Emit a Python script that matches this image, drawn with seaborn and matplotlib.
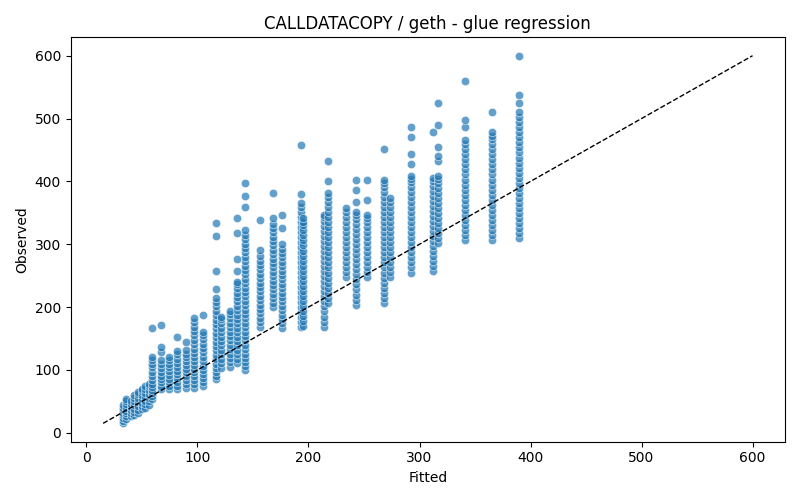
import matplotlib
matplotlib.use("Agg")
import matplotlib.pyplot as plt
import seaborn as sns
import pandas as pd

# Fitted levels (x) and observed values read for each level (y)
fitted_levels = [33, 36, 40, 43, 46, 50, 53, 56, 59, 67, 74, 82, 90, 97, 105, 117,
                 121, 129, 136, 143, 156, 168, 176, 193, 195, 214, 218, 234, 243,
                 253, 268, 273, 292, 312, 317, 341, 365, 390]

observed_low = [
    [15, 19, 24, 28, 32, 36, 40, 44],
    [22, 27, 31, 35, 40, 45, 50, 54],
    [27, 31, 36, 41, 46, 51],
    [28, 33, 38, 44, 50, 55, 60],
    [32, 37, 43, 49, 55, 61, 65],
    [38, 43, 48, 54, 60, 66, 70],
    [40, 45, 51, 57, 63, 69, 75],
    [44, 50, 56, 62, 68, 74, 78],
    [53, 58, 63, 68, 73, 78, 84, 90, 97, 104, 110, 116, 121, 167],
    [69, 74, 80, 86, 91, 97, 103, 109, 116, 129, 137, 172],
    [69, 74, 80, 86, 92, 98, 104, 110, 116, 121],
    [69, 75, 81, 87, 93, 99, 105, 111, 118, 125, 130, 153],
    [72, 78, 84, 90, 96, 102, 108, 114, 120, 126, 132, 145],
    [72, 78, 84, 90, 96, 102, 108, 114, 120, 127, 134, 141, 148, 155, 162, 169, 176, 183],
    [75, 81, 87, 93, 100, 107, 114, 121, 128, 135, 142, 149, 156, 160, 188],
]

observed_mid = [
    [85, 91, 97, 103, 110, 117, 124, 131, 138, 145, 152, 159, 166, 173, 180, 187, 194,
     201, 208, 214, 229, 258, 313, 334],
    [103, 111, 118, 125, 132, 139, 146, 153, 160, 167, 174, 181, 185],
    [105, 112, 119, 126, 133, 140, 147, 154, 161, 168, 175, 182, 189, 193],
    [111, 118, 125, 132, 139, 146, 153, 160, 167, 174, 181, 188, 195, 202, 209, 216,
     223, 230, 237, 240, 258, 277, 318, 341],
    [100, 106, 112, 119, 126, 133, 140, 147, 154, 161, 168, 175, 182, 189, 196, 203,
     210, 217, 224, 231, 238, 245, 252, 259, 266, 273, 280, 287, 294, 301, 308, 315,
     323, 360, 376, 398],
    [169, 176, 183, 190, 197, 204, 211, 218, 225, 232, 239, 246, 253, 260, 267, 274,
     281, 291, 339],
    [200, 207, 214, 221, 228, 235, 242, 249, 256, 263, 270, 277, 284, 291, 298, 305,
     312, 319, 326, 333, 342, 382],
    [167, 174, 181, 188, 195, 202, 209, 216, 223, 230, 237, 244, 251, 258, 265, 272,
     279, 286, 293, 300, 326, 347],
]

observed_high = [
    [169, 176, 184, 192, 200, 208, 216, 224, 232, 240, 248, 256, 264, 272, 280, 288,
     296, 304, 312, 320, 328, 336, 344, 352, 359, 366, 380, 458],
    [170, 178, 186, 194, 202, 210, 218, 226, 234, 242, 250, 258, 266, 274, 282, 290,
     298, 306, 314, 322, 330, 336, 342],
    [169, 177, 185, 193, 201, 209, 217, 225, 233, 241, 249, 257, 265, 273, 281, 289,
     297, 305, 313, 321, 329, 337, 343, 347],
    [207, 215, 223, 231, 239, 247, 255, 263, 271, 279, 287, 295, 303, 311, 319, 327,
     335, 343, 351, 359, 367, 375, 382, 401, 433],
    [248, 256, 264, 272, 280, 288, 296, 304, 312, 320, 328, 336, 344, 351, 357],
    [204, 212, 220, 228, 236, 244, 252, 260, 268, 276, 284, 292, 300, 308, 316, 324,
     332, 340, 347, 352, 368, 387, 403],
    [248, 256, 264, 272, 280, 288, 296, 304, 312, 320, 328, 336, 342, 347, 371, 403],
    [207, 215, 223, 231, 239, 247, 255, 263, 271, 279, 287, 295, 303, 311, 319, 327,
     335, 343, 351, 359, 367, 375, 383, 391, 398, 403, 452],
    [248, 256, 264, 272, 280, 288, 296, 304, 312, 320, 328, 336, 344, 352, 360, 367, 374],
    [255, 263, 271, 279, 287, 295, 303, 311, 319, 327, 335, 343, 351, 359, 367, 375,
     383, 391, 399, 404, 408, 427, 443, 470, 486],
    [257, 265, 273, 281, 289, 297, 305, 313, 321, 329, 337, 345, 353, 361, 369, 377,
     385, 393, 400, 406, 479],
    [302, 310, 318, 326, 334, 342, 350, 358, 366, 374, 382, 390, 398, 404, 408, 432,
     440, 455, 489, 525],
    [307, 315, 323, 331, 339, 347, 355, 363, 371, 379, 387, 395, 403, 411, 419, 427,
     435, 443, 451, 459, 466, 487, 497, 559],
    [307, 315, 323, 331, 339, 347, 355, 363, 371, 379, 387, 395, 403, 411, 419, 427,
     435, 443, 451, 459, 467, 473, 478, 511],
    [310, 318, 326, 334, 342, 350, 358, 366, 374, 382, 390, 398, 406, 414, 422, 430,
     438, 446, 454, 462, 470, 478, 486, 494, 503, 511, 525, 538, 600],
]

observed_groups = observed_low + observed_mid + observed_high
rows = []
for f, obs in zip(fitted_levels, observed_groups):
    for o in obs:
        rows.append((f, o))
df = pd.DataFrame(rows, columns=["Fitted", "Observed"])

fig, ax = plt.subplots(figsize=(8, 5), dpi=100)
sns.scatterplot(data=df, x="Fitted", y="Observed", alpha=0.7, ax=ax)
lo = min(df["Fitted"].min(), df["Observed"].min())
hi = max(df["Fitted"].max(), df["Observed"].max())
ax.plot([lo, hi], [lo, hi], "k--", linewidth=1)
ax.set_title("CALLDATACOPY / geth - glue regression")
ax.set_xlabel("Fitted")
ax.set_ylabel("Observed")
fig.tight_layout()
fig.savefig("out.png", dpi=100)
